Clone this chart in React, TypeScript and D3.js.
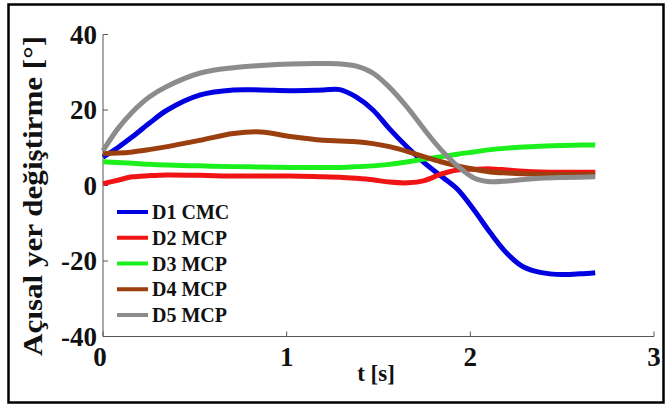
import React from 'react';
import * as d3 from 'd3';

// time samples [s]
const times = [0, 0.08, 0.16, 0.25, 0.35, 0.53, 0.71, 0.86, 1.02, 1.2, 1.29, 1.38, 1.47, 1.56, 1.66, 1.75, 1.84, 1.93, 2.02, 2.11, 2.2, 2.29, 2.38, 2.5, 2.6, 2.68];

// joint angles [deg]
const d1Cmc = [7.5, 10, 12.9, 16.4, 20, 24, 25.3, 25.3, 25.1, 25.3, 25.4, 23.4, 20, 15, 10, 6, 2.5, -1, -6.5, -12.6, -18, -21.6, -23, -23.6, -23.4, -23.1];
const d2Mcp = [0.5, 1.4, 2.3, 2.6, 2.8, 2.7, 2.5, 2.5, 2.5, 2.3, 2.2, 1.9, 1.5, 0.9, 0.7, 1.3, 3.0, 4.1, 4.3, 4.4, 4.1, 3.8, 3.6, 3.5, 3.5, 3.5];
const d3Mcp = [6.3, 6.1, 5.9, 5.6, 5.4, 5.2, 5.0, 4.9, 4.8, 4.8, 4.8, 5.0, 5.2, 5.6, 6.3, 7.0, 7.6, 8.3, 8.9, 9.5, 9.9, 10.2, 10.4, 10.6, 10.7, 10.7];
const d4Mcp = [8.5, 8.6, 8.9, 9.5, 10.3, 12, 13.8, 14.2, 13, 12, 11.8, 11.6, 11.1, 10.3, 9, 7.6, 6.3, 5.2, 4.3, 3.6, 3.3, 3.1, 3.0, 2.9, 2.9, 2.9];
const d5Mcp = [9.2, 15, 19.5, 23.4, 26.3, 29.8, 31.2, 31.8, 32.2, 32.3, 32.2, 31.6, 29.8, 26, 20.5, 14.8, 9.5, 5.2, 2.0, 1.0, 1.2, 1.6, 1.9, 2.1, 2.2, 2.3];

const seriesNames = ['D1 CMC', 'D2 MCP', 'D3 MCP', 'D4 MCP', 'D5 MCP'];
const seriesColors = ['#0000e0', '#f01414', '#1cf01c', '#9c3f0f', '#8c8c8c'];
const seriesValues = [d1Cmc, d2Mcp, d3Mcp, d4Mcp, d5Mcp];

const xTicks = [0, 1, 2, 3];
const yTicks = [-40, -20, 0, 20, 40];

const W = 667;
const H = 406;
const FONT = 'Liberation Serif, DejaVu Serif, serif';

export default function App() {
  const x = d3.scaleLinear().domain([0, 3]).range([103, 654]);
  const y = d3.scaleLinear().domain([-40, 40]).range([336.5, 34.5]);

  const line = d3
    .line<number>()
    .x((_, i) => x(times[i]))
    .y(d => y(d))
    .curve(d3.curveCatmullRom.alpha(0.5));

  const legendY = d3.scaleLinear().domain([0, 4]).range([212, 315]);

  return (
    <div style={{ position: 'absolute', left: 0, top: 0 }}>
      <svg width={W} height={H} fontFamily={FONT} fontWeight="bold" style={{ display: 'block', background: '#fff' }}>
        <rect x={8.5} y={4.5} width={655} height={398} fill="#fff" stroke="#000" strokeWidth={2.5} />

        {/* axes */}
        <g stroke="#555" strokeWidth={1} fill="none">
          <line x1={x(0)} x2={x(3)} y1={y(-40)} y2={y(-40)} />
          <line x1={x(0)} x2={x(0)} y1={y(-40)} y2={y(40)} />
          {xTicks.map(t => (
            <line key={'xt' + t} x1={x(t)} x2={x(t)} y1={y(-40)} y2={y(-40) - 5} />
          ))}
          {yTicks.map(v => (
            <line key={'yt' + v} x1={x(0)} x2={x(0) + 5} y1={y(v)} y2={y(v)} />
          ))}
        </g>

        {/* series */}
        {seriesValues.map((vals, i) => (
          <path key={seriesNames[i]} d={line(vals) || ''} fill="none" stroke={seriesColors[i]} strokeWidth={5} strokeLinejoin="round" />
        ))}

        {/* tick labels */}
        <g fontSize={27} fill="#111">
          {xTicks.map(t => (
            <text key={'xl' + t} x={x(t) - (t === 0 ? 3 : 0)} y={366} textAnchor="middle">{t}</text>
          ))}
          {yTicks.map(v => (
            <text key={'yl' + v} x={97} y={y(v) + 9} textAnchor="end">{v}</text>
          ))}
        </g>

        {/* axis titles */}
        <text x={376} y={381} textAnchor="middle" fontSize={23} fill="#111">t [s]</text>
        <text
          transform="translate(42, 196) rotate(-90)"
          textAnchor="middle"
          fontSize={28}
          fill="#111"
          textLength={320}
          lengthAdjust="spacingAndGlyphs"
        >
          Açısal yer değiştirme [°]
        </text>

        {/* legend */}
        <g fontSize={20} fill="#111">
          {seriesNames.map((name, i) => (
            <g key={'lg' + name}>
              <line x1={117} x2={148} y1={legendY(i)} y2={legendY(i)} stroke={seriesColors[i]} strokeWidth={4} />
              <text x={152} y={legendY(i) + 7}>{name}</text>
            </g>
          ))}
        </g>
      </svg>
    </div>
  );
}
